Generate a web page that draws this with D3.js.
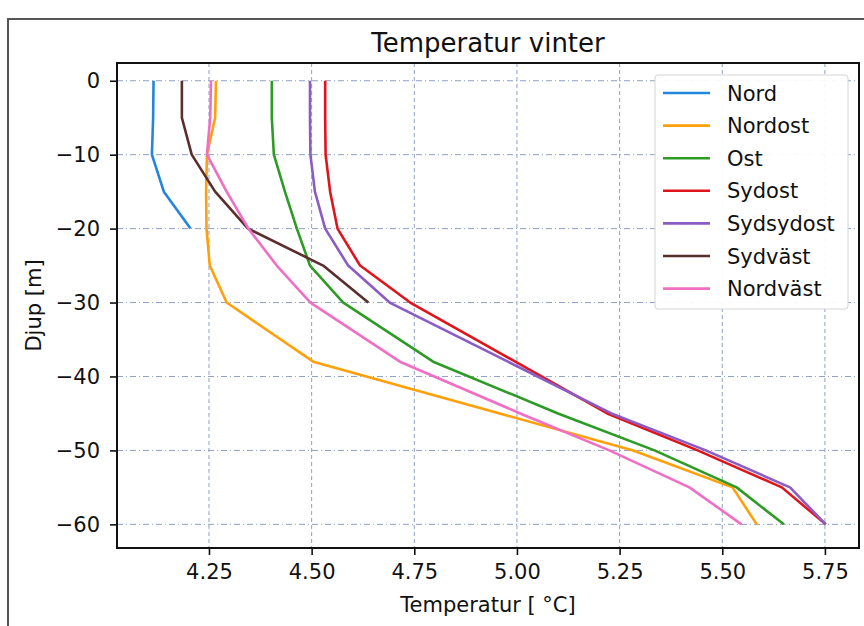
<!DOCTYPE html>
<html>
<head>
<meta charset="utf-8">
<script src="https://cdn.jsdelivr.net/npm/d3@7"></script>
<style>
  body { margin: 0; background: #fff; }
  text { font-family: "DejaVu Sans", sans-serif; fill: #111; }
</style>
</head>
<body>
<div id="chart"></div>
<script>
// djup (m) och temperatur per station
var depth     = [0, -5, -10, -15, -20, -25, -30, -38, -45, -50, -55, -60];
var nord      = [4.115, 4.114, 4.111, 4.140, 4.205, null, null, null, null, null, null, null];
var nordost   = [4.267, 4.265, 4.245, 4.243, 4.244, 4.252, 4.293, 4.504, 4.958, 5.283, 5.525, 5.584];
var ost       = [4.403, 4.403, 4.408, 4.435, 4.464, 4.496, 4.577, 4.796, 5.100, 5.335, 5.535, 5.650];
var sydost    = [4.533, 4.533, 4.534, 4.545, 4.563, 4.618, 4.740, 4.996, 5.220, 5.440, 5.645, 5.752];
var sydsydost = [4.496, 4.496, 4.497, 4.508, 4.533, 4.589, 4.690, 4.978, 5.230, 5.460, 5.665, 5.752];
var sydvast   = [4.184, 4.184, 4.208, 4.265, 4.345, 4.528, 4.638, null, null, null, null, null];
var nordvast  = [4.255, 4.253, 4.245, 4.293, 4.346, 4.415, 4.497, 4.715, 5.008, 5.225, 5.420, 5.547];

var names  = ["Nord", "Nordost", "Ost", "Sydost", "Sydsydost", "Sydväst", "Nordväst"];
var colors = ["#2386dc", "#ffa00a", "#2e9b26", "#e0141c", "#8a5cc4", "#5a2e2c", "#f06ec4"];
var xTicks = [4.25, 4.50, 4.75, 5.00, 5.25, 5.50, 5.75];
var yTicks = [0, -10, -20, -30, -40, -50, -60];

var series = [nord, nordost, ost, sydost, sydsydost, sydvast, nordvast].map(function(vals, i){
    return {
        name: names[i],
        color: colors[i],
        values: vals.map(function(t, j){ return {t: t, d: depth[j]}; })
    };
});

var width = 864, height = 626;
var pLeft = 117, pRight = 859, pTop = 63, pBottom = 548;

var svg = d3.select("#chart").append("svg")
    .attr("width", width)
    .attr("height", height);

svg.append("rect").attr("width", width).attr("height", height).attr("fill", "#fff");

// ram runt bilden (skannad)
svg.append("path")
    .attr("d", "M8," + height + "L8,19L" + width + ",19")
    .attr("fill", "none")
    .attr("stroke", "#555")
    .attr("stroke-width", 2);

var x = d3.scaleLinear().domain([4.026, 5.833]).range([pLeft, pRight]);
var y = d3.scaleLinear().domain([-63.2, 2.4]).range([pBottom, pTop]);

// rutnät
svg.append("g").selectAll("line")
    .data(xTicks).enter().append("line")
    .attr("x1", function(d){ return x(d); })
    .attr("x2", function(d){ return x(d); })
    .attr("y1", pTop).attr("y2", pBottom)
    .attr("stroke", "#8fa0c4")
    .attr("stroke-width", 1)
    .attr("stroke-dasharray", "4,3");

svg.append("g").selectAll("line")
    .data(yTicks).enter().append("line")
    .attr("x1", pLeft).attr("x2", pRight)
    .attr("y1", function(d){ return y(d); })
    .attr("y2", function(d){ return y(d); })
    .attr("stroke", "#8fa0c4")
    .attr("stroke-width", 1)
    .attr("stroke-dasharray", "6,3,1,3");

var line = d3.line()
    .defined(function(d){ return d.t != null; })
    .x(function(d){ return x(d.t); })
    .y(function(d){ return y(d.d); });

svg.append("g").selectAll("path")
    .data(series).enter().append("path")
    .attr("d", function(d){ return line(d.values); })
    .attr("fill", "none")
    .attr("stroke", function(d){ return d.color; })
    .attr("stroke-width", 2.6)
    .attr("stroke-linejoin", "round");

// axlar
var xAxis = svg.append("g")
    .attr("transform", "translate(0," + pBottom + ")")
    .call(d3.axisBottom(x).tickValues(xTicks).tickFormat(d3.format(".2f")).tickSize(7).tickPadding(9));
var yAxis = svg.append("g")
    .attr("transform", "translate(" + pLeft + ",0)")
    .call(d3.axisLeft(y).tickValues(yTicks).tickFormat(d3.format("d")).tickSize(7).tickPadding(10));

[xAxis, yAxis].forEach(function(g){
    g.select(".domain").remove();
    g.selectAll(".tick line").attr("stroke", "#111").attr("stroke-width", 1.6);
    g.selectAll(".tick text")
        .style("font-family", "'DejaVu Sans', sans-serif")
        .style("font-size", "21px")
        .attr("fill", "#111");
});

svg.append("rect")
    .attr("x", pLeft).attr("y", pTop)
    .attr("width", pRight - pLeft).attr("height", pBottom - pTop)
    .attr("fill", "none")
    .attr("stroke", "#111")
    .attr("stroke-width", 2);

// titel och axeltitlar
svg.append("text")
    .attr("x", (pLeft + pRight) / 2).attr("y", 52)
    .attr("text-anchor", "middle")
    .style("font-size", "26px")
    .text("Temperatur vinter");

svg.append("text")
    .attr("x", (pLeft + pRight) / 2).attr("y", 612)
    .attr("text-anchor", "middle")
    .style("font-size", "21px")
    .text("Temperatur [ °C]");

svg.append("text")
    .attr("transform", "translate(41," + (pTop + pBottom) / 2 + ") rotate(-90)")
    .attr("text-anchor", "middle")
    .style("font-size", "21px")
    .text("Djup [m]");

// förklaring
var legend = svg.append("g");
legend.append("rect")
    .attr("x", 655).attr("y", 75)
    .attr("width", 193).attr("height", 234)
    .attr("rx", 3)
    .attr("fill", "#fff")
    .attr("fill-opacity", 0.92)
    .attr("stroke", "#d4d4d4")
    .attr("stroke-width", 1);

var item = legend.selectAll("g.item")
    .data(series).enter().append("g")
    .attr("class", "item")
    .attr("transform", function(d, i){ return "translate(0," + (93 + i * 32.6) + ")"; });

item.append("line")
    .attr("x1", 663).attr("x2", 710)
    .attr("stroke", function(d){ return d.color; })
    .attr("stroke-width", 2.6);

item.append("text")
    .attr("x", 727).attr("dy", "0.36em")
    .style("font-size", "21px")
    .text(function(d){ return d.name; });
</script>
</body>
</html>
